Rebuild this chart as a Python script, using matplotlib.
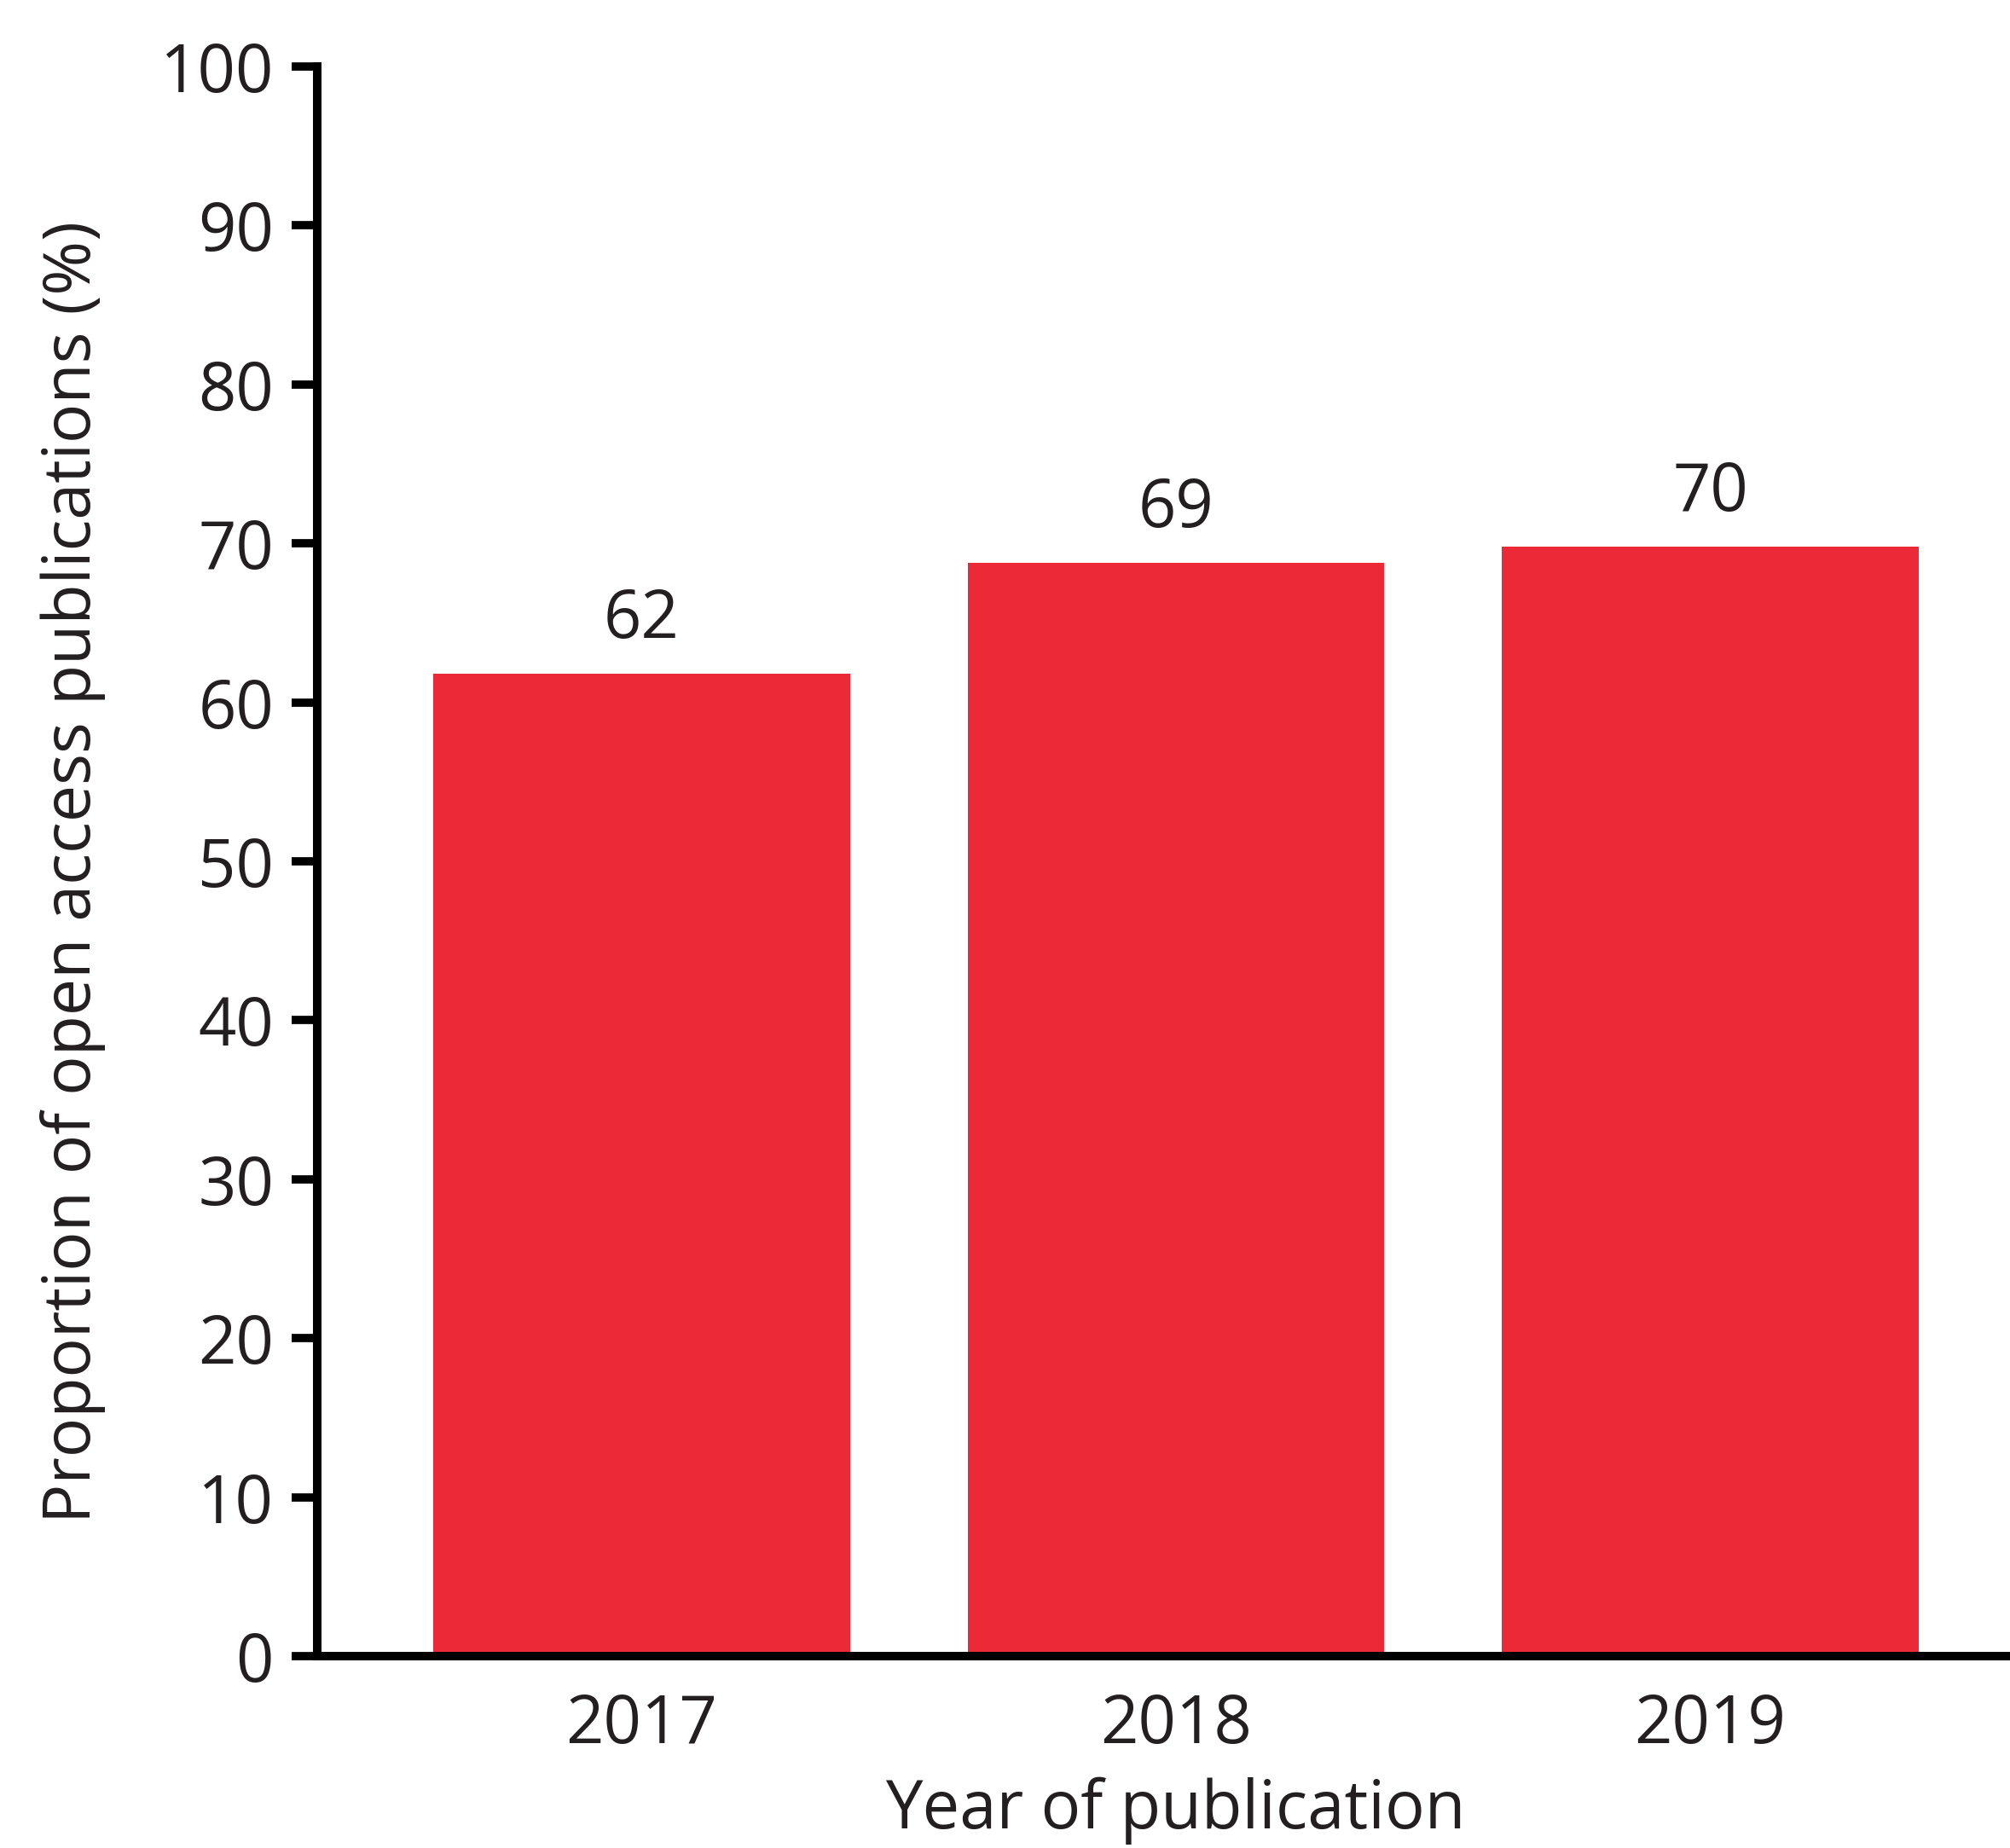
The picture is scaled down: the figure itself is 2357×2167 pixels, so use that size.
import matplotlib.pyplot as plt

# data
years = ['2017', '2018', '2019']
share_oa = [61.8, 68.8, 69.8]  # proportion of open access publications (%)
y_ticks = list(range(0, 101, 10))

bar_color = '#EC2936'
text_color = '#231F20'

plt.rcParams['font.family'] = ['Open Sans', 'DejaVu Sans']

fig = plt.figure(figsize=(23.57, 21.67), dpi=100)
ax = fig.add_axes([0.1578, 0.1038, 0.8422, 0.8602])

pos = list(range(len(years)))
ax.bar(pos, share_oa, width=0.78, color=bar_color, zorder=1)

for x, v in zip(pos, share_oa):
    ax.annotate('%.0f' % v, (x, v), xytext=(0, 30), textcoords='offset points',
                ha='center', va='baseline', fontsize=56, color=text_color)

ax.set_xlim(-0.607, 2.561)
ax.set_ylim(0, 100)
ax.set_xticks(pos)
ax.set_xticklabels(years)
ax.set_yticks(y_ticks)

# axes styling
for side in ['top', 'right']:
    ax.spines[side].set_visible(False)
for side in ['left', 'bottom']:
    ax.spines[side].set_linewidth(7.2)
    ax.spines[side].set_color('black')
    ax.spines[side].set_zorder(3)

ax.tick_params(axis='y', length=21.6, width=7.0, color='black', pad=15,
               labelsize=56, labelcolor=text_color)
ax.tick_params(axis='x', length=0, pad=30, labelsize=56, labelcolor=text_color)

ax.set_ylabel('Proportion of open access publications (%)', fontsize=55.5,
              color=text_color, va='center')
ax.yaxis.set_label_coords(86 / 2357, 0.528, transform=fig.transFigure)
ax.set_xlabel('Year of publication', fontsize=56, color=text_color, va='baseline')
ax.xaxis.set_label_coords(1378 / 2357, 0.0105, transform=fig.transFigure)

fig.savefig('out.png', dpi=100)
